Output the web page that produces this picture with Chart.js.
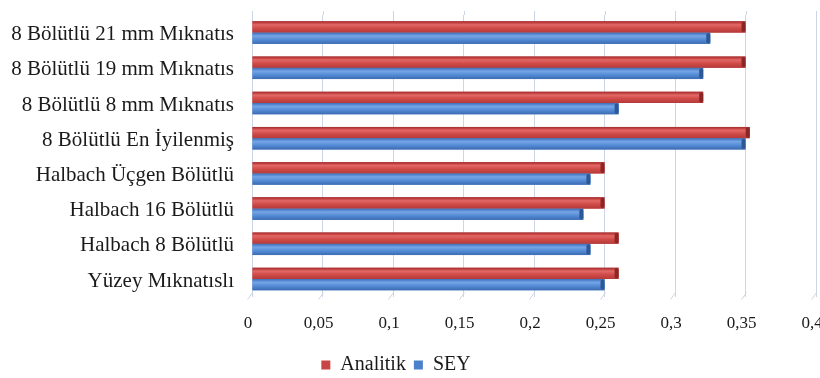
<!DOCTYPE html>
<html>
<head>
<meta charset="utf-8">
<script src="https://cdn.jsdelivr.net/npm/chart.js@4.4.1/dist/chart.umd.min.js"></script>
<style>
  html, body { margin: 0; padding: 0; background: #ffffff; }
  #wrap { width: 820px; height: 378px; position: relative; }
</style>
</head>
<body>
<div id="wrap"><canvas id="c" width="820" height="378"></canvas></div>
<script>
const categories = [
  '8 Bölütlü 21 mm Mıknatıs',
  '8 Bölütlü 19 mm Mıknatıs',
  '8 Bölütlü 8 mm Mıknatıs',
  '8 Bölütlü En İyilenmiş',
  'Halbach Üçgen Bölütlü',
  'Halbach 16 Bölütlü',
  'Halbach 8 Bölütlü',
  'Yüzey Mıknatıslı'
];
const analitik = [0.35, 0.35, 0.32, 0.353, 0.25, 0.25, 0.26, 0.26];
const sey = [0.325, 0.32, 0.26, 0.35, 0.24, 0.235, 0.24, 0.25];
const xTicks = [0, 0.05, 0.1, 0.15, 0.2, 0.25, 0.3, 0.35, 0.4];

const serif = '"Liberation Serif", "Times New Roman", serif';

const solid = ['#c94444', '#4a80cc'];
const shading = [
  [[0, '#9c2e2e'], [0.12, '#c03e3e'], [0.3, '#e26866'], [0.62, '#cf4a47'], [1, '#b43a39']],
  [[0, '#3f6db2'], [0.12, '#5084ce'], [0.3, '#76a5e6'], [0.62, '#548cd6'], [1, '#3c6bb1']]
];
const capColors = ['#8a2626', '#2d5896'];

// Repaint each bar with a rounded, cylinder-like shading and a darker tip
const barShade = {
  id: 'barShade',
  afterDatasetsDraw(chart) {
    const ctx = chart.ctx;
    chart.data.datasets.forEach((ds, i) => {
      chart.getDatasetMeta(i).data.forEach(bar => {
        const h = bar.height;
        const top = bar.y - h / 2;
        const g = ctx.createLinearGradient(0, top, 0, top + h);
        shading[i].forEach(s => g.addColorStop(s[0], s[1]));
        ctx.save();
        ctx.fillStyle = g;
        ctx.fillRect(bar.base, top, bar.x - bar.base, h);
        ctx.fillStyle = capColors[i];
        ctx.beginPath();
        ctx.roundRect(bar.x - 4, top + 0.5, 4, h - 1, 2);
        ctx.fill();
        ctx.restore();
      });
    });
  }
};

// Back-wall gridlines reach a little above the plot, with slanted floor marks below
const wallMarks = {
  id: 'wallMarks',
  beforeDatasetsDraw(chart) {
    const ctx = chart.ctx;
    const xs = chart.scales.x;
    const { top, bottom } = chart.chartArea;
    ctx.save();
    ctx.strokeStyle = '#cdd6e6';
    ctx.lineWidth = 1;
    xTicks.forEach(v => {
      const px = Math.round(xs.getPixelForValue(v)) + 0.5;
      ctx.beginPath();
      ctx.moveTo(px, top - 4);
      ctx.lineTo(px, top);
      ctx.moveTo(px, bottom - 4);
      ctx.lineTo(px - 5, bottom + 3);
      ctx.stroke();
    });
    ctx.restore();
  }
};

// Centre the legend slightly left of the page middle and lift it a little
const legendPlace = {
  id: 'legendPlace',
  afterLayout(chart) {
    const lg = chart.legend;
    lg.left = 0;
    lg.right = 792;
    lg.top -= 4;
    lg.bottom -= 4;
  }
};

new Chart(document.getElementById('c'), {
  type: 'bar',
  data: {
    labels: categories,
    datasets: [
      { label: 'Analitik', data: analitik, backgroundColor: solid[0], borderWidth: 0 },
      { label: 'SEY', data: sey, backgroundColor: solid[1], borderWidth: 0 }
    ]
  },
  options: {
    indexAxis: 'y',
    responsive: false,
    animation: false,
    devicePixelRatio: 1,
    layout: { padding: { top: 15, right: 4, left: 4, bottom: -11 } },
    datasets: { bar: { categoryPercentage: 0.64, barPercentage: 1.0 } },
    scales: {
      x: {
        type: 'linear',
        min: 0,
        max: 0.4,
        afterBuildTicks(scale) { scale.ticks = xTicks.map(v => ({ value: v })); },
        afterFit(scale) { scale.paddingLeft = 0; scale.paddingRight = 0; },
        grid: { color: '#cdd6e6', lineWidth: 1, drawTicks: false },
        border: { display: false },
        ticks: {
          padding: 17,
          labelOffset: -4,
          color: '#1a1a1a',
          font: { family: serif, size: 17 },
          callback: (v) => String(+v.toFixed(2)).replace('.', ',')
        }
      },
      y: {
        grid: { display: false, drawTicks: false },
        border: { display: true, color: '#cdd6e6' },
        afterFit(scale) { scale.width = 248; scale.paddingTop = 0; scale.paddingBottom = 0; },
        ticks: {
          padding: 18,
          labelOffset: 2,
          color: '#1a1a1a',
          font: { family: serif, size: 21 }
        }
      }
    },
    plugins: {
      legend: {
        position: 'bottom',
        labels: {
          boxWidth: 9,
          boxHeight: 9,
          padding: 8,
          color: '#1a1a1a',
          font: { family: serif, size: 20 },
          generateLabels(chart) {
            const cols = ['#c94444', '#4a80cc'];
            return chart.data.datasets.map((ds, i) => ({
              text: ds.label, fillStyle: cols[i], strokeStyle: cols[i], lineWidth: 0, datasetIndex: i, fontColor: '#1a1a1a'
            }));
          }
        }
      },
      tooltip: { enabled: false }
    }
  },
  plugins: [barShade, wallMarks, legendPlace]
});
</script>
</body>
</html>
